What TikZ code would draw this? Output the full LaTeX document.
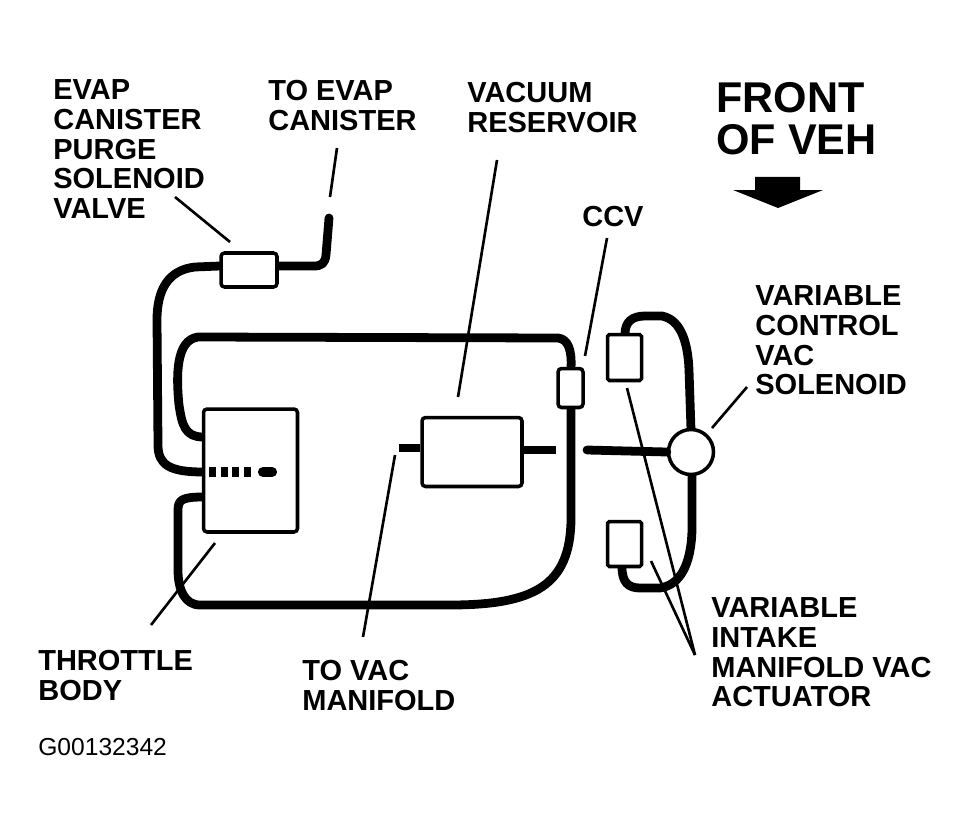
\documentclass[tikz,border=0pt]{standalone}
\usepackage{fontspec}
\setmainfont{Liberation Sans}
\usetikzlibrary{calc}

\tikzset{
  partbox/.style={draw, line width=2pt, rounded corners=2pt, fill=white, inner sep=0pt},
  hose/.style={line width=5pt, line join=round},
  leader/.style={line width=1.5pt},
  label/.style={anchor=north west, align=left, inner sep=0pt, font=\fontsize{16.5}{17}\selectfont\bfseries},
}

\begin{document}
\begin{tikzpicture}[x=0.02cm, y=-0.02cm]
  \useasboundingbox (0,0) rectangle (969,831);

  % hoses
  \coordinate (evapend) at (329,218);
  \coordinate (vacend) at (399,448);
  \coordinate (teeend) at (587,450);
  \coordinate (valveL) at (220,266);
  \coordinate (valveR) at (278,266);
  \coordinate (bodyA) at (203,437);
  \coordinate (bodyB) at (203,472);
  \coordinate (bodyC) at (203,497);
  \coordinate (ccvT) at (571,368);
  \coordinate (ccvB) at (571,408);
  \coordinate (upperT) at (625,334);
  \coordinate (lowerB) at (622,567);
  \coordinate (solT) at (691,430);
  \coordinate (solB) at (692,474);
  \draw[hose, line cap=round] (evapend) -- (326,255) .. controls (325,263) and (322,266) .. (314,266) -- (valveR);
  \draw[hose] (valveL) -- (195,267) .. controls (168,270) and (157,290) .. (157,320)
    -- (158,445) .. controls (158,465) and (170,472) .. (bodyB);
  \draw[hose] (bodyA) .. controls (185,437) and (182,425) .. (179,405)
    .. controls (176,375) and (176,340) .. (198,337) -- (558,338)
    .. controls (568,339) and (572,350) .. (ccvT);
  \draw[hose] (ccvB) -- (571,520) .. controls (570,585) and (535,605) .. (450,605)
    -- (200,605) .. controls (185,605) and (178,590) .. (178,570) -- (178,510)
    .. controls (178,500) and (182,497) .. (bodyC);
  \draw[hose] (upperT) .. controls (625,322) and (632,316) .. (645,316) -- (662,316)
    .. controls (682,320) and (688,345) .. (689,370) -- (solT);
  \draw[hose] (solB) -- (692,530) .. controls (691,565) and (680,585) .. (660,588)
    -- (640,588) .. controls (628,588) and (622,582) .. (lowerB);

  % parts
  \node[partbox, minimum width=1.12cm, minimum height=0.68cm] (valve) at (249,270) {};
  \node[partbox, minimum width=1.88cm, minimum height=2.46cm] (throttle) at (250.5,470.5) {};
  \node[partbox, minimum width=2.0cm, minimum height=1.38cm] (reservoir) at (472,452) {};
  \node[partbox, minimum width=0.5cm, minimum height=0.78cm] (ccv) at (570.5,388) {};
  \node[partbox, rounded corners=1pt, minimum width=0.68cm, minimum height=0.92cm] (upperact) at (624.5,357.5) {};
  \node[partbox, rounded corners=1pt, minimum width=0.68cm, minimum height=0.9cm] (loweract) at (624.5,544) {};
  \node[partbox, circle, minimum size=0.9cm] (solenoid) at (691,452) {};

  \draw[hose] (reservoir.west |- 0,448) -- (vacend);
  \draw[hose] (reservoir.east |- 0,450) -- (556,450);
  \draw[hose, line cap=round] (teeend) -- (solenoid.west);
  \draw[line width=5.4pt, dash pattern=on 4pt off 2.6pt] (209,472) -- (255,472);
  \draw[line width=5.8pt, line cap=round] (263,472) -- (272,472);

  % labels
  \node[label] (purgetext) at (53,79) {EVAP\\CANISTER\\PURGE\\SOLENOID\\VALVE};
  \node[label] (canistertext) at (268,80) {TO EVAP\\CANISTER};
  \node[label] (reservoirtext) at (467,82) {VACUUM\\RESERVOIR};
  \node[label] (ccvtext) at (582,206) {CCV};
  \node[label] (solenoidtext) at (755,285) {VARIABLE\\CONTROL\\VAC\\SOLENOID};
  \node[label] (throttletext) at (38,650) {THROTTLE\\BODY};
  \node[label] (manifoldtext) at (302,660) {TO VAC\\MANIFOLD};
  \node[label] (actuatortext) at (711,597) {VARIABLE\\INTAKE\\MANIFOLD VAC\\ACTUATOR};
  \node[label, font=\fontsize{24.5}{24}\selectfont\bfseries] (fronttext) at (716,82) {FRONT\\OF VEH};
  \node[anchor=north west, inner sep=0pt, font=\fontsize{14}{16}\selectfont] (figcode) at (38,738) {G00132342};

  % direction arrow
  \fill (755,177) -- (800,177) -- (800,190) -- (823,190) -- (778,208) -- (733,190) -- (755,190) -- cycle;

  % leaders
  \coordinate (purgeA) at (175,197); \coordinate (purgeZ) at (230,242);
  \coordinate (canisterA) at (337,148); \coordinate (canisterZ) at (330,197);
  \coordinate (reservoirA) at (497,160); \coordinate (reservoirZ) at (458,397);
  \coordinate (ccvA) at (607,238); \coordinate (ccvZ) at (585,356);
  \coordinate (solenoidA) at (747,387); \coordinate (solenoidZ) at (712,428);
  \coordinate (throttleA) at (151,625); \coordinate (throttleZ) at (215,543);
  \coordinate (manifoldA) at (363,637); \coordinate (manifoldZ) at (395,455);
  \coordinate (actuatorA) at (695,655); \coordinate (actuatorY) at (627,388); \coordinate (actuatorZ) at (651,561);
  \draw[leader] (purgeA) -- (purgeZ);
  \draw[leader] (canisterA) -- (canisterZ);
  \draw[leader] (reservoirA) -- (reservoirZ);
  \draw[leader] (ccvA) -- (ccvZ);
  \draw[leader] (solenoidA) -- (solenoidZ);
  \draw[leader] (throttleA) -- (throttleZ);
  \draw[leader] (manifoldA) -- (manifoldZ);
  \draw[leader] (actuatorA) -- (actuatorY);
  \draw[leader] (actuatorA) -- (actuatorZ);
\end{tikzpicture}
\end{document}
